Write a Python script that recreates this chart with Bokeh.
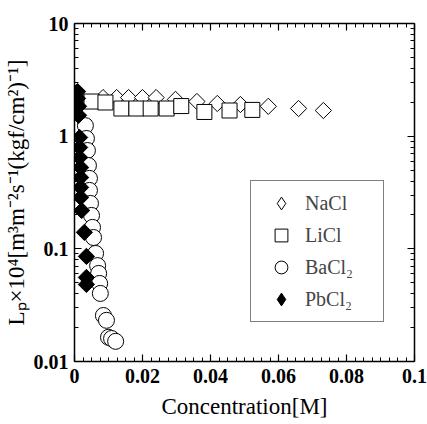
import numpy as np
from bokeh.plotting import figure
from bokeh.models import (FixedTicker, CustomJSTickFormatter, LinearAxis, LogAxis,
                          Legend, LegendItem, Range1d)
from bokeh.embed import file_html
from bokeh.resources import INLINE

# ---- data ----
nacl_x = [0.0005, 0.0084, 0.0124, 0.0159, 0.0200, 0.0240, 0.0297, 0.0360, 0.0420, 0.0488, 0.0570, 0.0659, 0.0732]
nacl_y = [2.20, 2.20, 2.20, 2.20, 2.20, 2.20, 2.12, 2.03, 1.95, 1.91, 1.84, 1.76, 1.69]

licl_x = [0.0003, 0.0050, 0.0091, 0.0138, 0.0182, 0.0224, 0.0271, 0.0314, 0.0382, 0.0456, 0.0523]
licl_y = [2.25, 2.03, 1.99, 1.76, 1.76, 1.76, 1.76, 1.85, 1.64, 1.69, 1.71]

bacl2_x = [0.0032, 0.0035, 0.0038, 0.0041, 0.0044, 0.0044, 0.0047, 0.0050, 0.0053, 0.0056,
           0.0062, 0.0068, 0.0071, 0.0074, 0.0076, 0.0085, 0.0094, 0.0100, 0.0109, 0.0121]
bacl2_y = [1.24, 0.954, 0.746, 0.549, 0.422, 0.330, 0.253, 0.198, 0.155, 0.126,
           0.091, 0.071, 0.0605, 0.0493, 0.0402, 0.0256, 0.0232, 0.0164, 0.0160, 0.0151]

pbcl2_x = [0.0009, 0.0009, 0.0012, 0.0012, 0.0015, 0.0015, 0.0015, 0.0018, 0.0018, 0.0018,
           0.0018, 0.0021, 0.0029, 0.0035, 0.0035, 0.0035]
pbcl2_y = [2.49, 2.16, 1.84, 1.53, 0.974, 0.794, 0.647, 0.527, 0.430, 0.351,
           0.286, 0.219, 0.140, 0.0857, 0.0557, 0.0483]

series_labels = ["NaCl", "LiCl", "BaCl₂", "PbCl₂"]
x_ticks = [0, 0.02, 0.04, 0.06, 0.08, 0.1]
y_ticks = [0.01, 0.1, 1, 10]
y_minor = [m * d for d in (0.01, 0.1, 1) for m in range(2, 10)]
x_minor = [i * 0.0025 for i in range(0, 41)]

SERIF = "Liberation Serif"

p = figure(width=427, height=424, output_backend="svg", toolbar_location=None,
           y_axis_type="log", x_range=Range1d(0, 0.1), y_range=Range1d(0.01, 10),
           min_border_left=74, min_border_right=13, min_border_top=23, min_border_bottom=63,
           x_axis_label="Concentration[M]",
           y_axis_label="Lₚ×10⁴[m³m⁻²s⁻¹(kgf/cm²)⁻¹]")
p.grid.visible = False
p.outline_line_color = None
p.background_fill_color = "white"
p.border_fill_color = "white"

fmt = CustomJSTickFormatter(code="return String(Number(tick.toPrecision(6)));")
blank = CustomJSTickFormatter(code="return '';")

def style(ax):
    ax.axis_line_width = 1.5
    ax.axis_line_color = "black"
    ax.major_tick_in = 7
    ax.major_tick_out = 0
    ax.minor_tick_in = 4
    ax.minor_tick_out = 0
    ax.major_tick_line_width = 1.2
    ax.minor_tick_line_width = 1
    ax.major_label_text_font = SERIF
    ax.major_label_text_font_style = "bold"
    ax.major_label_text_font_size = "20px"
    ax.major_label_text_color = "black"
    ax.axis_label_text_font = SERIF
    ax.axis_label_text_font_style = "normal"
    ax.axis_label_text_font_size = "23px"
    ax.axis_label_text_color = "black"

xt = FixedTicker(ticks=x_ticks, minor_ticks=x_minor)
yt = FixedTicker(ticks=y_ticks, minor_ticks=y_minor)

p.xaxis.ticker = xt
p.xaxis.formatter = fmt
p.yaxis.ticker = yt
p.yaxis.formatter = fmt
style(p.xaxis[0])
style(p.yaxis[0])
p.xaxis.major_label_standoff = 7
p.xaxis.axis_label_standoff = 8
p.yaxis.major_label_standoff = 6
p.yaxis.axis_label_standoff = 2

top = LinearAxis(ticker=xt, formatter=blank)
style(top)
top.major_label_standoff = 0
right = LogAxis(ticker=yt, formatter=blank)
style(right)
right.major_label_standoff = 0
p.add_layout(top, "above")
p.add_layout(right, "right")

r_na = p.scatter(nacl_x, nacl_y, marker="square", angle=np.pi / 4, size=11.5,
                 fill_color="white", line_color="black", line_width=1)
r_li = p.scatter(licl_x, licl_y, marker="square", size=15,
                 fill_color="white", line_color="black", line_width=1)
r_ba = p.scatter(bacl2_x, bacl2_y, marker="circle", size=16,
                 fill_color="white", line_color="black", line_width=1)
r_pb = p.scatter(pbcl2_x, pbcl2_y, marker="square", angle=np.pi / 4, size=11.5,
                 fill_color="black", line_color="black", line_width=1)

# legend-only glyphs (legend glyphs are always drawn unrotated); hidden on the plot
lg_na = p.scatter(nacl_x[:1], nacl_y[:1], marker="diamond", fill_color="white",
                  line_color="black", line_width=1, visible=False)
lg_pb = p.scatter(pbcl2_x[:1], pbcl2_y[:1], marker="diamond", fill_color="black",
                  line_color="black", line_width=1, visible=False)

legend = Legend(items=[LegendItem(label=lab, renderers=[r], index=0)
                       for lab, r in zip(series_labels, [lg_na, r_li, r_ba, lg_pb])],
                location=(176, 39), margin=0, padding=6, spacing=0,
                glyph_width=48, glyph_height=32, label_standoff=0, label_width=72,
                label_text_font=SERIF, label_text_font_size="20px",
                border_line_color="black", border_line_width=1.5,
                background_fill_color="white", background_fill_alpha=1)
p.add_layout(legend, "center")

open("out.html", "w").write(file_html(p, INLINE))
